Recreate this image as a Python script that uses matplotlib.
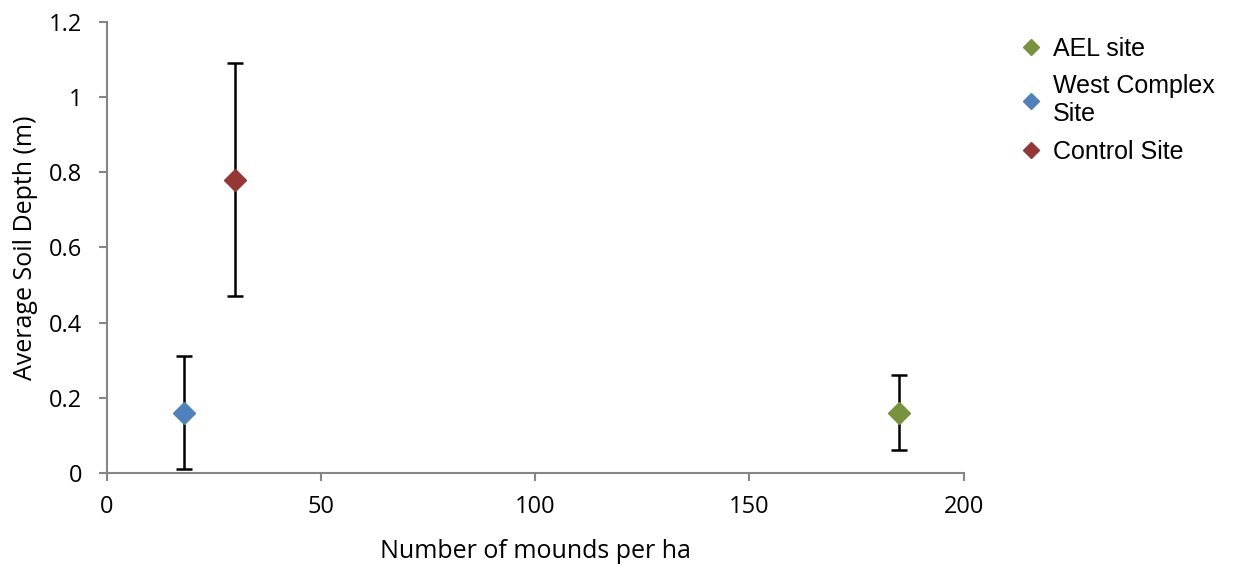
import matplotlib.pyplot as plt
from matplotlib.lines import Line2D

# data
sites = ['AEL site', 'West Complex\nSite', 'Control Site']
mounds_per_ha = [185, 18, 30]
soil_depth = [0.16, 0.16, 0.78]
depth_err = [0.10, 0.15, 0.31]
colors = ['#77933C', '#4F81BD', '#953735']

axis_grey = '#868686'

fig = plt.figure(figsize=(12.37, 5.65), dpi=100)
ax = fig.add_axes([0.0865, 0.163, 0.6925, 0.798])

handles = []
for x, y, e, c, lab in zip(mounds_per_ha, soil_depth, depth_err, colors, sites):
    ax.errorbar(x, y, yerr=e, fmt='none', ecolor='black', elinewidth=1.8,
                capsize=5.5, capthick=1.8, zorder=2)
    ax.plot(x, y, marker='D', markersize=11, color=c, linestyle='none', zorder=3)
    handles.append(Line2D([0], [0], marker='D', color=c, linestyle='none',
                          markersize=8, label=lab))

ax.set_xlim(0, 200)
ax.set_ylim(0, 1.2)
ax.set_xticks([0, 50, 100, 150, 200])
ax.set_xticklabels(['0', '50', '100', '150', '200'])
ax.set_yticks([0, 0.2, 0.4, 0.6, 0.8, 1.0, 1.2])
ax.set_yticklabels(['0', '0.2', '0.4', '0.6', '0.8', '1', '1.2'])

for side in ['top', 'right']:
    ax.spines[side].set_visible(False)
for side in ['left', 'bottom']:
    ax.spines[side].set_color(axis_grey)
    ax.spines[side].set_linewidth(1.5)
ax.tick_params(axis='both', direction='out', length=6, width=1.5,
               color=axis_grey, labelsize=17)
ax.tick_params(axis='y', pad=12)
ax.tick_params(axis='x', pad=10)
for lbl in ax.get_xticklabels() + ax.get_yticklabels():
    lbl.set_fontfamily('Open Sans')

ax.set_xlabel('Number of mounds per ha', fontsize=18, family='Open Sans', labelpad=14)
ax.set_ylabel('Average Soil Depth (m)', fontsize=18, family='Open Sans', labelpad=8)

# legend in the right margin, like the Excel original
fig.legend(handles=handles, loc='upper left', bbox_to_anchor=(0.805, 0.975),
           frameon=False, handletextpad=0.4, labelspacing=0.55,
           prop={'family': 'Liberation Sans', 'size': 18}, handlelength=1.0)

plt.savefig('out.png')
